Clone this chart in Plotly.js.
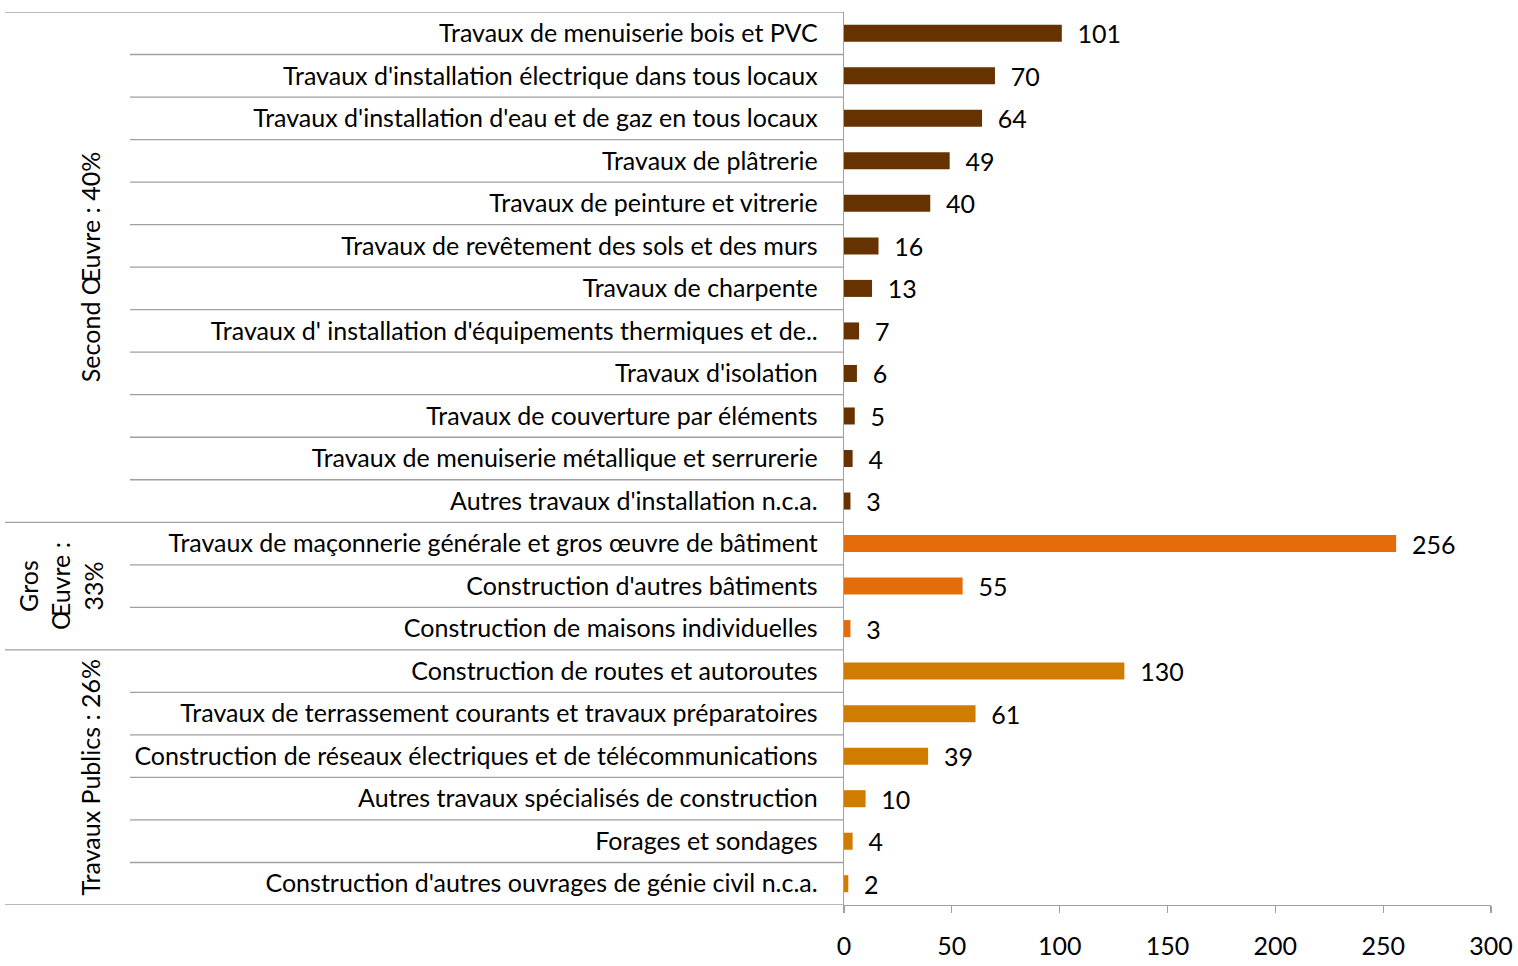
<!DOCTYPE html>
<html>
<head>
<meta charset="utf-8">
<script src="https://cdn.plot.ly/plotly-3.0.1.min.js"></script>
<style>html,body{margin:0;padding:0;background:#fff;}#chart{width:1518px;height:966px;}</style>
</head>
<body>
<div id="chart"></div>
<script>
const secondOeuvreCats = [
  "Travaux de menuiserie bois et PVC",
  "Travaux d'installation électrique dans tous locaux",
  "Travaux d'installation d'eau et de gaz en tous locaux",
  "Travaux de plâtrerie",
  "Travaux de peinture et vitrerie",
  "Travaux de revêtement des sols et des murs",
  "Travaux de charpente",
  "Travaux d' installation d'équipements thermiques et de..",
  "Travaux d'isolation",
  "Travaux de couverture par éléments",
  "Travaux de menuiserie métallique et serrurerie",
  "Autres travaux d'installation n.c.a."
];
const secondOeuvreVals = [101, 70, 64, 49, 40, 16, 13, 7, 6, 5, 4, 3];

const grosOeuvreCats = [
  "Travaux de maçonnerie générale et gros œuvre de bâtiment",
  "Construction d'autres bâtiments",
  "Construction de maisons individuelles"
];
const grosOeuvreVals = [256, 55, 3];

const travauxPublicsCats = [
  "Construction de routes et autoroutes",
  "Travaux de terrassement courants et travaux préparatoires",
  "Construction de réseaux électriques et de télécommunications",
  "Autres travaux spécialisés de construction",
  "Forages et sondages",
  "Construction d'autres ouvrages de génie civil n.c.a."
];
const travauxPublicsVals = [130, 61, 39, 10, 4, 2];

const groupLabels = ["Second Œuvre : 40%", "Gros<br>Œuvre :<br>33%", "Travaux Publics : 26%"];
const xTicks = [0, 50, 100, 150, 200, 250, 300];

const FONT = "Lato, 'Open Sans', sans-serif";
const FS = 25;
const groups = [
  {cats: secondOeuvreCats, vals: secondOeuvreVals, color: "#663300"},
  {cats: grosOeuvreCats, vals: grosOeuvreVals, color: "#E46C0A"},
  {cats: travauxPublicsCats, vals: travauxPublicsVals, color: "#D07C00"}
];
const allCats = [].concat(secondOeuvreCats, grosOeuvreCats, travauxPublicsCats);

const traces = groups.map(g => ({
  type: "bar",
  orientation: "h",
  y: g.cats,
  x: g.vals,
  marker: {color: g.color},
  text: g.vals.map(v => "\u00a0\u00a0" + v),
  textposition: "outside",
  constraintext: "none",
  cliponaxis: false,
  textfont: {family: FONT, size: FS, color: "#000"},
  hoverinfo: "x+y",
  showlegend: false
}));

const lineColor = "#a0a0a0";
const pxToPaper = px => (px - 844) / 647;
const shapes = [];
const n = allCats.length;
const boundaries = [];
let acc = 0;
groups.forEach(g => { boundaries.push(acc - 0.5); acc += g.cats.length; });
boundaries.push(n - 0.5);
for (let i = 0; i < n - 1; i++) {
  const y = i + 0.5;
  const isGroup = boundaries.includes(y);
  shapes.push({type: "line", xref: "paper", yref: "y", x0: pxToPaper(isGroup ? 5 : 130), x1: 0, y0: y, y1: y,
    line: {color: lineColor, width: 1.3}});
}
shapes.push({type: "line", xref: "paper", yref: "y", x0: pxToPaper(5), x1: 0, y0: -0.5, y1: -0.5, line: {color: lineColor, width: 1.3}});
shapes.push({type: "line", xref: "paper", yref: "y", x0: pxToPaper(5), x1: 0, y0: n - 0.5, y1: n - 0.5, line: {color: lineColor, width: 1.3}});

const annotations = [];
const groupX = [pxToPaper(90), pxToPaper(60), pxToPaper(90)];
acc = 0;
groups.forEach((g, gi) => {
  const mid = acc + (g.cats.length - 1) / 2;
  annotations.push({xref: "paper", yref: "y", x: groupX[gi], y: mid, text: groupLabels[gi], textangle: -90,
    showarrow: false, xanchor: "center", yanchor: "middle", font: {family: FONT, size: FS, color: "#000"}});
  acc += g.cats.length;
});

const layout = {
  width: 1518, height: 966,
  margin: {l: 844, r: 27, t: 12, b: 61},
  paper_bgcolor: "#fff", plot_bgcolor: "#fff",
  barmode: "overlay",
  bargap: 0.6,
  font: {family: FONT, size: FS, color: "#000"},
  xaxis: {
    range: [0, 300], tickvals: xTicks, ticktext: xTicks.map(String),
    showgrid: false, zeroline: false, showline: true, linecolor: lineColor, linewidth: 1.3,
    ticks: "outside", ticklen: 7, tickcolor: lineColor, tickwidth: 1.3,
    ticklabelstandoff: 12,
    tickfont: {family: FONT, size: FS, color: "#000"}
  },
  yaxis: {
    type: "category", categoryorder: "array", categoryarray: allCats,
    range: [n - 0.5, -0.5],
    showgrid: false, zeroline: false, showline: true, linecolor: lineColor, linewidth: 1.3,
    ticks: "", ticklabelstandoff: 20,
    tickfont: {family: FONT, size: FS, color: "#000"}
  },
  shapes: shapes,
  annotations: annotations
};

Plotly.newPlot("chart", traces, layout, {displayModeBar: false, staticPlot: true});
</script>
</body>
</html>
